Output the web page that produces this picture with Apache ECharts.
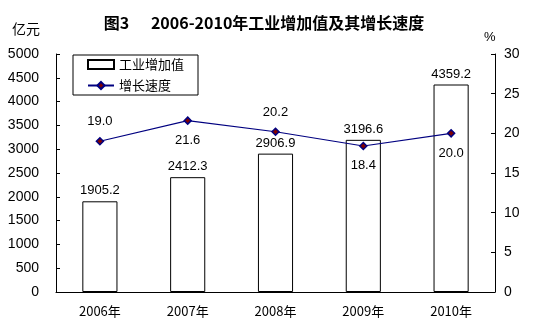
<!DOCTYPE html>
<html><head><meta charset="utf-8">
<script src="https://cdn.jsdelivr.net/npm/echarts@6/dist/echarts.min.js"></script>
<style>html,body{margin:0;padding:0;background:#fff}#c{width:544px;height:335px}</style>
</head><body><div id="c"></div>
<script>
var categories = ['2006年','2007年','2008年','2009年','2010年'];
var valueAdded = [1905.2, 2412.3, 2906.9, 3196.6, 4359.2];
var growthRate = [19.0, 21.6, 20.2, 18.4, 20.0];
var rateLabelPos = ['top','bottom','top','bottom','bottom'];
var leftTicks = {min:0, max:5000, interval:500};
var rightTicks = {min:0, max:30, interval:5};

var font = 'Liberation Sans, Arial, sans-serif';
var cjk = 'Noto Sans CJK SC, sans-serif';
var chart = echarts.init(document.getElementById('c'));
chart.setOption({
  animation:false,
  backgroundColor:'#fff',
  title:{text:'图3      2006-2010年工业增加值及其增长速度', left:259, top:10, textAlign:'center',
    textStyle:{fontFamily:cjk, fontSize:16, fontWeight:'bold', color:'#000'}},
  graphic:[
    {type:'text', left:12, top:22, style:{text:'亿元', font:'14px '+cjk, fill:'#000'}},
    {type:'text', left:484, top:31, style:{text:'%', font:'13px '+font, fill:'#000'}}
  ],
  legend:{orient:'vertical', left:73, top:55, width:120, borderColor:'#000', borderWidth:1, borderRadius:0,
    padding:[3,14,3,14], itemGap:8, itemWidth:26, itemHeight:9,
    textStyle:{fontFamily:cjk, fontSize:13, color:'#000'},
    data:[{name:'工业增加值', icon:'rect'},{name:'增长速度'}]},
  grid:{left:56, right:49, top:54, bottom:43},
  xAxis:{type:'category', data:categories, boundaryGap:true,
    axisLine:{lineStyle:{color:'#000', width:1}},
    axisTick:{inside:true, length:4, lineStyle:{color:'#000'}},
    axisLabel:{fontFamily:cjk, fontSize:13, color:'#000', margin:13}},
  yAxis:[
    {type:'value', min:leftTicks.min, max:leftTicks.max, interval:leftTicks.interval,
      axisLine:{show:true, lineStyle:{color:'#000'}}, axisTick:{show:true, inside:true, length:4, lineStyle:{color:'#000'}},
      splitLine:{show:false}, axisLabel:{fontFamily:font, fontSize:14, color:'#000', margin:17,
        formatter:function(v){return String(v);}}},
    {type:'value', min:rightTicks.min, max:rightTicks.max, interval:rightTicks.interval, position:'right',
      axisLine:{show:true, lineStyle:{color:'#000'}}, axisTick:{show:true, inside:true, length:4, lineStyle:{color:'#000'}},
      splitLine:{show:false}, axisLabel:{fontFamily:font, fontSize:14, color:'#000', margin:9,
        formatter:function(v){return String(v);}}}
  ],
  series:[
    {name:'工业增加值', type:'bar', yAxisIndex:0, data:valueAdded, barWidth:'40%',
      itemStyle:{color:'#fff', borderColor:'#000', borderWidth:1},
      label:{show:true, position:'top', distance:4, fontFamily:font, fontSize:13, color:'#000',
        formatter:function(p){return p.value.toFixed(1);}}},
    {name:'增长速度', type:'line', yAxisIndex:1,
      data:growthRate.map(function(v,i){return {value:v, label:{position:rateLabelPos[i]}};}),
      symbol:'diamond', symbolSize:7, lineStyle:{color:'#000080', width:1.2},
      itemStyle:{color:'#800000', borderColor:'#000080', borderWidth:1.5},
      label:{show:true, distance:9, fontFamily:font, fontSize:13, color:'#000',
        formatter:function(p){return p.value.toFixed(1);}}}
  ]
});
</script></body></html>
